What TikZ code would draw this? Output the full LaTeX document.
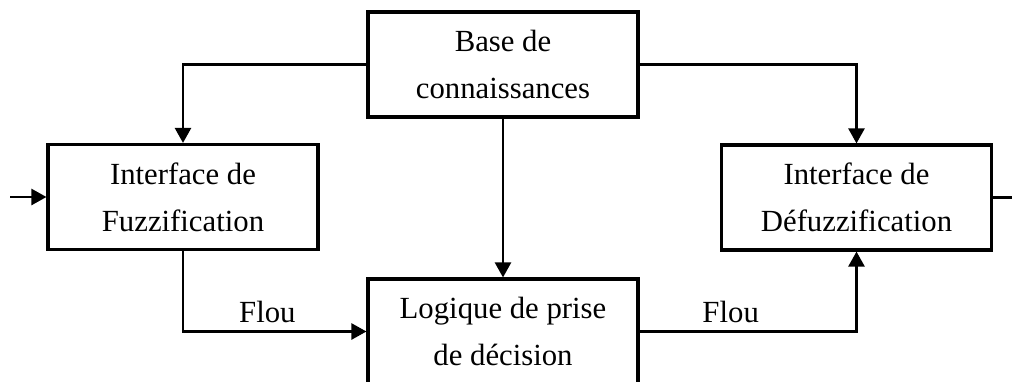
\documentclass[tikz,border=0pt]{standalone}
\usepackage{fontspec}
\setmainfont{Liberation Serif}
\usepackage{tikz}
\usetikzlibrary{arrows.meta,calc,positioning}
\tikzset{
  block/.style={rectangle,draw=black,line width=1.8pt,minimum width=5.4cm,
    minimum height=2.1cm,inner sep=2pt,align=center,
    font=\fontsize{17.5}{26.7}\selectfont},
  arc/.style={-{Triangle[length=3mm,width=3.2mm]},line width=1.4pt},
  plainarc/.style={line width=1.4pt},
  arclabel/.style={font=\fontsize{17.5}{20}\selectfont,inner sep=4pt}
}
\begin{document}
\begin{tikzpicture}[x=0.02cm,y=-0.02cm]
  \useasboundingbox (0,0) rectangle (1012,382);
  \node[block] (base) at (503,64.5) {Base de\\connaissances};
  \node[block] (fuzz) at (183,197) {Interface de\\Fuzzification};
  \node[block] (defuzz) at (856.5,197.5) {Interface de\\D\'efuzzification};
  \node[block] (logic) at (503,331.5) {Logique de prise\\de d\'ecision};
  \coordinate (in) at (10,197);
  \coordinate (out) at (1014,197.5);
  \draw[arc] (in) -- (fuzz);
  \draw[plainarc] (defuzz) -- (out);
  \draw[arc] (base.west) -| (fuzz.north);
  \draw[arc] (base.east) -| (defuzz.north);
  \draw[arc] (base.south) -- (logic.north);
  \draw[arc] (fuzz.south) |- node[arclabel,above,pos=0.73] {Flou} (logic.west);
  \draw[arc] (logic.east) -| node[arclabel,above,pos=0.21] {Flou} (defuzz.south);
\end{tikzpicture}
\end{document}
